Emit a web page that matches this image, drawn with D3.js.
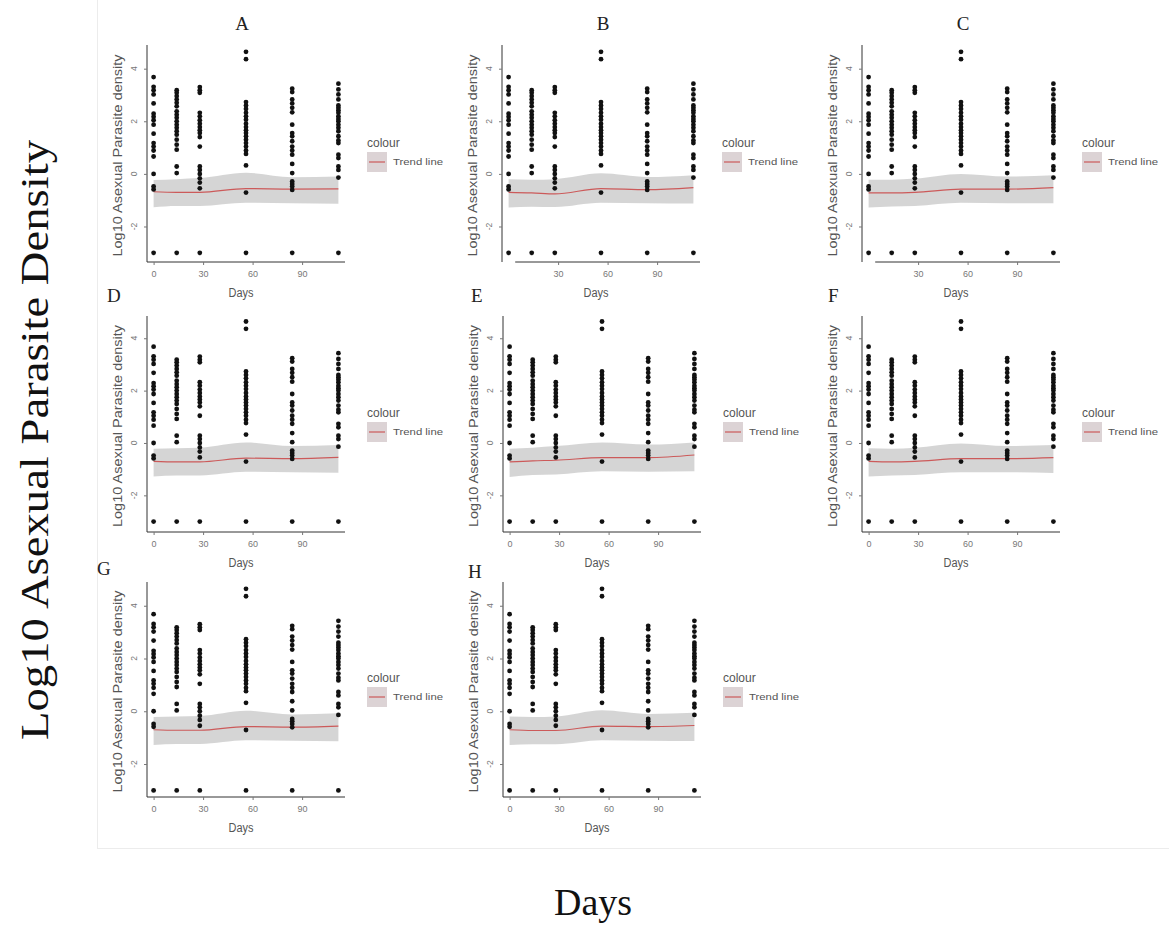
<!DOCTYPE html>
<html>
<head>
<meta charset="utf-8">
<script src="https://cdn.jsdelivr.net/npm/d3@7"></script>
<style>
  body { margin: 0; background: #fff; }
  svg text { font-family: "Liberation Sans", Arial, sans-serif; }
</style>
</head>
<body>
<svg id="chart" width="1169" height="926"></svg>
<script>
// Sampling days and axis breaks
const days = [0, 14, 28, 56, 84, 112];
const dayTicks = [0, 30, 60, 90];
const yTicks = [-2, 0, 2, 4];
const panelNames = ["A", "B", "C", "D", "E", "F", "G", "H"];

// Log10 asexual parasite density observations at each sampling day
const densityDay0   = [3.68, 3.31, 3.18, 3.02, 2.68, 2.29, 2.17, 2.04, 1.87, 1.53, 1.17, 1.04, 0.89, 0.66, 0.0, -0.48, -0.59, -3];
const densityDay14  = [3.18, 3.08, 2.96, 2.83, 2.70, 2.57, 2.38, 2.25, 2.13, 2.0, 1.87, 1.75, 1.62, 1.49, 1.30, 1.11, 0.92, 0.28, 0.03, -3];
const densityDay28  = [3.30, 3.18, 3.08, 2.32, 2.19, 2.04, 1.91, 1.78, 1.66, 1.55, 1.40, 1.04, 0.28, 0.15, 0.0, -0.17, -0.33, -0.55, -3];
const densityDay56  = [4.64, 4.36, 2.73, 2.60, 2.47, 2.32, 2.19, 2.06, 1.91, 1.78, 1.66, 1.55, 1.43, 1.30, 1.17, 1.04, 0.89, 0.76, 0.32, -0.71, -3];
const densityDay84  = [3.24, 3.11, 2.83, 2.68, 2.51, 2.34, 1.87, 1.55, 1.43, 1.24, 1.04, 0.89, 0.73, 0.38, 0.03, -0.29, -0.38, -0.48, -0.61, -3];
const densityDay112 = [3.43, 3.21, 3.02, 2.83, 2.60, 2.51, 2.42, 2.32, 2.19, 2.09, 2.0, 1.87, 1.75, 1.62, 1.43, 1.27, 1.17, 0.73, 0.60, 0.28, 0.15, -0.14, -3];
const densityByDay = [densityDay0, densityDay14, densityDay28, densityDay56, densityDay84, densityDay112];

// Smoothed trend (fit with lower / upper band) for each panel, at the sampling days
const trendFit = [
  [-0.68, -0.70, -0.70, -0.56, -0.58, -0.57],
  [-0.70, -0.72, -0.76, -0.56, -0.60, -0.52],
  [-0.72, -0.72, -0.70, -0.58, -0.58, -0.52],
  [-0.70, -0.72, -0.72, -0.58, -0.60, -0.55],
  [-0.72, -0.68, -0.66, -0.56, -0.56, -0.46],
  [-0.70, -0.72, -0.70, -0.60, -0.60, -0.56],
  [-0.70, -0.72, -0.72, -0.58, -0.60, -0.56],
  [-0.70, -0.73, -0.73, -0.56, -0.58, -0.54]
];
const trendLow = [
  [-1.27, -1.22, -1.22, -1.10, -1.12, -1.14],
  [-1.28, -1.25, -1.26, -1.10, -1.12, -1.13],
  [-1.28, -1.24, -1.22, -1.10, -1.12, -1.12],
  [-1.28, -1.24, -1.24, -1.10, -1.12, -1.14],
  [-1.30, -1.22, -1.20, -1.08, -1.10, -1.08],
  [-1.28, -1.24, -1.22, -1.12, -1.12, -1.15],
  [-1.28, -1.24, -1.24, -1.10, -1.12, -1.14],
  [-1.28, -1.25, -1.25, -1.10, -1.12, -1.13]
];
const trendHigh = [
  [-0.23, -0.20, -0.16, 0.04, -0.13, -0.10],
  [-0.20, -0.22, -0.20, 0.02, -0.12, -0.05],
  [-0.22, -0.22, -0.18, 0.00, -0.10, -0.05],
  [-0.22, -0.20, -0.18, 0.02, -0.12, -0.08],
  [-0.22, -0.18, -0.12, 0.02, -0.06, 0.02],
  [-0.20, -0.22, -0.18, -0.02, -0.12, -0.08],
  [-0.22, -0.20, -0.18, 0.02, -0.12, -0.08],
  [-0.20, -0.22, -0.20, 0.04, -0.10, -0.06]
];

// Panel placement: rows share vertical geometry, columns share horizontal
const rows = [
  { top: 45,  axisY: 262, yDomain: [-3.35, 4.9] },
  { top: 316, axisY: 532, yDomain: [-3.4, 4.85] },
  { top: 582, axisY: 797, yDomain: [-3.25, 4.9] }
];
const panelGeom = [
  { row: 0, x0: 147, title: [242, 30, "middle"], ticks: [0, 30, 60, 90], axisFrom: -4 },
  { row: 0, x0: 502, title: [603, 30, "middle"], ticks: [30, 60, 90], axisFrom: 4 },
  { row: 0, x0: 862, title: [963, 30, "middle"], ticks: [30, 60, 90], axisFrom: 4 },
  { row: 1, x0: 147, title: [107, 302, "start"], ticks: [0, 30, 60, 90], axisFrom: -4 },
  { row: 1, x0: 503, title: [471, 302, "start"], ticks: [0, 30, 60, 90], axisFrom: -4 },
  { row: 1, x0: 862, title: [828, 302, "start"], ticks: [0, 30, 60, 90], axisFrom: -4 },
  { row: 2, x0: 147, title: [97, 575, "start"], ticks: [0, 30, 60, 90], axisFrom: -4 },
  { row: 2, x0: 503, title: [468, 578, "start"], ticks: [0, 30, 60, 90], axisFrom: -4 }
];
const panelWidth = 198;

const svg = d3.select("#chart");

// faint frame of the figure block
svg.append("line").attr("x1", 97.5).attr("x2", 97.5).attr("y1", 0).attr("y2", 848)
  .attr("stroke", "#ececec").attr("stroke-width", 1);
svg.append("line").attr("x1", 97).attr("x2", 1169).attr("y1", 848.5).attr("y2", 848.5)
  .attr("stroke", "#ececec").attr("stroke-width", 1);

const textGray = "#555";
const axisCol = "#333";
const trendRed = "#cc5a5a";

panelNames.forEach((name, i) => {
  const g = panelGeom[i];
  const r = rows[g.row];
  const x = d3.scaleLinear().domain([-4, 116]).range([g.x0, g.x0 + panelWidth]);
  const y = d3.scaleLinear().domain(r.yDomain).range([r.axisY, r.top]);
  const p = svg.append("g");

  // panel letter
  p.append("text").attr("x", g.title[0]).attr("y", g.title[1])
    .attr("text-anchor", g.title[2])
    .style("font-family", "'Liberation Serif', 'Times New Roman', serif")
    .style("font-size", "19px").attr("fill", "#222").text(name);

  // confidence band
  const band = days.map((d, k) => ({ d, lo: trendLow[i][k], hi: trendHigh[i][k], fit: trendFit[i][k] }));
  p.append("path").datum(band)
    .attr("d", d3.area().x(v => x(v.d)).y0(v => y(v.lo)).y1(v => y(v.hi)).curve(d3.curveMonotoneX))
    .attr("fill", "#bcbcbc").attr("opacity", 0.62);
  p.append("path").datum(band)
    .attr("d", d3.line().x(v => x(v.d)).y(v => y(v.fit)).curve(d3.curveMonotoneX))
    .attr("fill", "none").attr("stroke", trendRed).attr("stroke-width", 1.2);

  // observations
  densityByDay.forEach((vals, k) => {
    p.selectAll(null).data(vals).enter().append("circle")
      .attr("cx", x(days[k])).attr("cy", v => y(v)).attr("r", 2.4).attr("fill", "#111");
  });

  // y axis
  const yAxis = d3.axisLeft(y).tickValues(yTicks).tickSize(3).tickFormat("");
  const ya = p.append("g").attr("transform", `translate(${g.x0},0)`).call(yAxis);
  ya.select(".domain").attr("stroke", axisCol).attr("d", `M0,${r.top}V${r.axisY}`);
  ya.selectAll(".tick line").attr("stroke", "#777");
  p.selectAll(null).data(yTicks).enter().append("text")
    .attr("transform", v => `translate(${g.x0 - 10},${y(v)}) rotate(-90)`)
    .attr("text-anchor", "middle").style("font-size", "8.5px").attr("fill", "#777")
    .text(v => v < 0 ? "-" + Math.abs(v) : v);

  // x axis
  const xAxis = d3.axisBottom(x).tickValues(g.ticks).tickSize(3).tickFormat(d3.format("d"));
  const xa = p.append("g").attr("transform", `translate(0,${r.axisY})`).call(xAxis);
  xa.select(".domain").attr("stroke", axisCol).attr("d", `M${x(g.axisFrom)},0H${g.x0 + panelWidth}`);
  xa.selectAll(".tick line").attr("stroke", "#777");
  xa.selectAll(".tick text").attr("y", 9).style("font-size", "9px").attr("fill", "#777")
    .style("font-family", "'Liberation Sans', Arial, sans-serif");

  // axis titles
  p.append("text").attr("x", g.x0 + 94).attr("y", r.axisY + 35).attr("text-anchor", "middle")
    .style("font-size", "12.5px").attr("fill", textGray).attr("textLength", 25)
    .attr("lengthAdjust", "spacingAndGlyphs").text("Days");
  p.append("text")
    .attr("transform", `translate(${g.x0 - 25},${(r.top + r.axisY) / 2 + 2}) rotate(-90)`)
    .attr("text-anchor", "middle").style("font-size", "12.5px").attr("fill", textGray)
    .attr("textLength", 202).attr("lengthAdjust", "spacingAndGlyphs")
    .text("Log10 Asexual Parasite density");

  // legend
  const lx = g.x0 + 220, ly = r.axisY;
  p.append("text").attr("x", lx).attr("y", ly - 115).style("font-size", "12px")
    .attr("fill", textGray).text("colour");
  p.append("rect").attr("x", lx).attr("y", ly - 110).attr("width", 20).attr("height", 20)
    .attr("fill", "#dcd3d5");
  p.append("line").attr("x1", lx + 2).attr("x2", lx + 18).attr("y1", ly - 100).attr("y2", ly - 100)
    .attr("stroke", trendRed).attr("stroke-width", 1.2);
  p.append("text").attr("x", lx + 26).attr("y", ly - 97).style("font-size", "9px")
    .attr("fill", textGray).attr("textLength", 50).attr("lengthAdjust", "spacingAndGlyphs")
    .text("Trend line");
});

// shared figure titles
svg.append("text")
  .attr("transform", "translate(48,440) rotate(-90)")
  .attr("text-anchor", "middle")
  .style("font-family", "'Liberation Serif', 'Times New Roman', serif")
  .style("font-size", "40px").attr("fill", "#111")
  .attr("textLength", 600).attr("lengthAdjust", "spacingAndGlyphs")
  .text("Log10 Asexual Parasite Density");
svg.append("text")
  .attr("x", 593).attr("y", 915).attr("text-anchor", "middle")
  .style("font-family", "'Liberation Serif', 'Times New Roman', serif")
  .style("font-size", "38px").attr("fill", "#111")
  .attr("textLength", 78).attr("lengthAdjust", "spacingAndGlyphs")
  .text("Days");
</script>
</body>
</html>
